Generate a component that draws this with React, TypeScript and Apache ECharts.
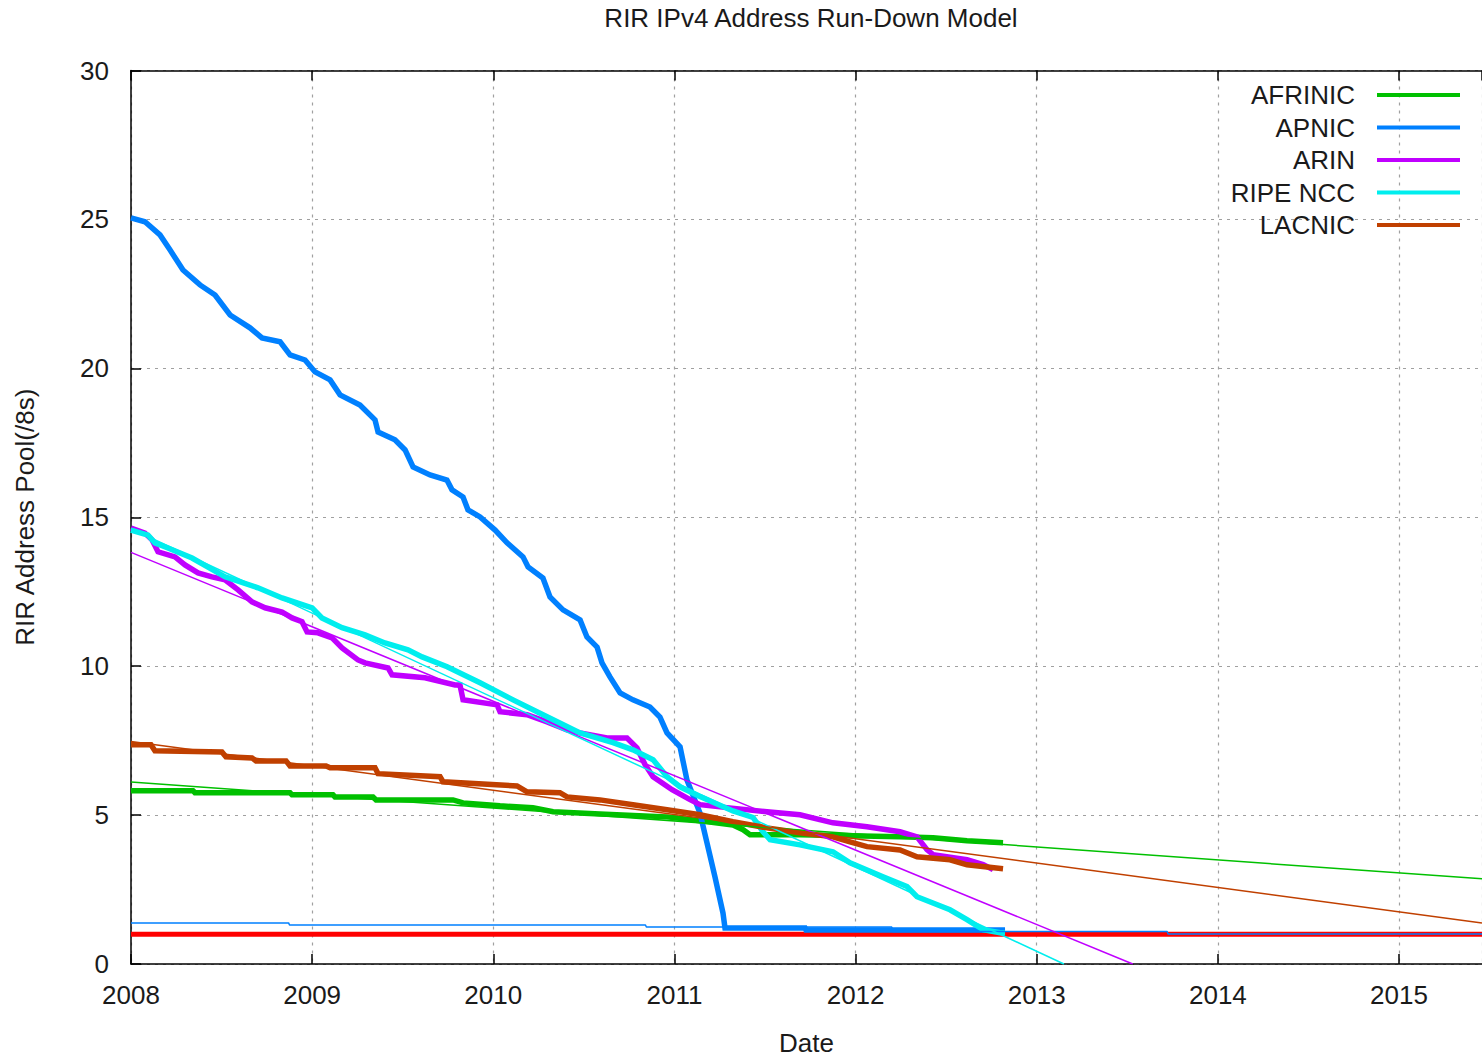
import React, { useEffect, useRef } from "react";
import * as echarts from "echarts";

const FONT = "Liberation Sans, Arial, sans-serif";
const FONT_SIZE = 26;
const X_MIN = 2008;
const X_MAX = 2015.458;
const Y_MIN = 0;
const Y_MAX = 30;

const TITLE = "RIR IPv4 Address Run-Down Model";
const X_NAME = "Date";
const Y_NAME = "RIR Address Pool(/8s)";
const LEGEND_NAMES = ["AFRINIC", "APNIC", "ARIN", "RIPE NCC", "LACNIC"];
const COLORS = ["#00c000", "#0080ff", "#c000ff", "#00eeee", "#c04000"];
const THRESHOLD_COLOR = "#ff0000";

// [year, /8s]
const AFRINIC: [number, number][] = [
  [2008.0, 5.82], [2008.342, 5.82], [2008.353, 5.75], [2008.878, 5.75], [2008.889, 5.68],
  [2009.115, 5.68], [2009.126, 5.61], [2009.336, 5.61], [2009.353, 5.51], [2009.778, 5.51],
  [2009.833, 5.41], [2010.037, 5.31], [2010.219, 5.25], [2010.33, 5.11], [2010.589, 5.04],
  [2010.959, 4.94], [2011.141, 4.81], [2011.323, 4.67], [2011.379, 4.51], [2011.417, 4.34],
  [2011.693, 4.34], [2012.245, 4.27], [2012.428, 4.24], [2012.615, 4.14], [2012.814, 4.07],
];

const APNIC: [number, number][] = [
  [2008.0, 25.05], [2008.077, 24.92], [2008.16, 24.48], [2008.215, 23.98], [2008.287, 23.3],
  [2008.381, 22.8], [2008.464, 22.46], [2008.547, 21.79], [2008.657, 21.36], [2008.723, 21.02],
  [2008.823, 20.89], [2008.878, 20.45], [2008.961, 20.28], [2009.016, 19.88], [2009.099, 19.61],
  [2009.154, 19.11], [2009.264, 18.77], [2009.347, 18.27], [2009.364, 17.86], [2009.457, 17.6],
  [2009.513, 17.26], [2009.557, 16.69], [2009.651, 16.42], [2009.744, 16.25], [2009.772, 15.92],
  [2009.833, 15.68], [2009.86, 15.25], [2009.927, 15.01], [2010.01, 14.57], [2010.076, 14.14],
  [2010.164, 13.67], [2010.192, 13.33], [2010.274, 12.96], [2010.313, 12.32], [2010.385, 11.89],
  [2010.479, 11.55], [2010.517, 10.98], [2010.573, 10.64], [2010.6, 10.11], [2010.644, 9.64],
  [2010.7, 9.1], [2010.771, 8.87], [2010.865, 8.63], [2010.92, 8.29], [2010.959, 7.76],
  [2011.031, 7.29], [2011.069, 6.18], [2011.141, 5.07], [2011.18, 4.06], [2011.224, 2.92],
  [2011.268, 1.71], [2011.279, 1.21], [2011.721, 1.21], [2011.726, 1.14], [2012.825, 1.14],
];

const ARIN: [number, number][] = [
  [2008.0, 14.64], [2008.077, 14.47], [2008.116, 14.24], [2008.149, 13.84], [2008.243, 13.67],
  [2008.298, 13.4], [2008.37, 13.13], [2008.447, 13.0], [2008.519, 12.9], [2008.591, 12.56],
  [2008.668, 12.16], [2008.74, 11.96], [2008.834, 11.82], [2008.889, 11.62], [2008.944, 11.49],
  [2008.972, 11.15], [2009.032, 11.12], [2009.11, 10.95], [2009.165, 10.61], [2009.253, 10.21],
  [2009.292, 10.11], [2009.419, 9.94], [2009.441, 9.71], [2009.623, 9.61], [2009.789, 9.37],
  [2009.816, 9.37], [2009.833, 8.87], [2010.021, 8.7], [2010.037, 8.47], [2010.186, 8.37],
  [2010.297, 8.13], [2010.407, 7.86], [2010.479, 7.76], [2010.628, 7.59], [2010.738, 7.59],
  [2010.793, 7.26], [2010.838, 6.69], [2010.882, 6.29], [2010.987, 5.85], [2011.086, 5.52],
  [2011.141, 5.35], [2011.29, 5.25], [2011.511, 5.11], [2011.693, 5.01], [2011.875, 4.74],
  [2012.063, 4.61], [2012.245, 4.44], [2012.339, 4.27], [2012.394, 3.84], [2012.428, 3.67],
  [2012.615, 3.5], [2012.704, 3.34], [2012.759, 3.17],
];

const RIPE_NCC: [number, number][] = [
  [2008.0, 14.57], [2008.094, 14.4], [2008.132, 14.14], [2008.204, 13.97], [2008.337, 13.63],
  [2008.519, 13.0], [2008.701, 12.63], [2008.834, 12.29], [2009.0, 11.96], [2009.054, 11.62],
  [2009.165, 11.29], [2009.292, 11.05], [2009.402, 10.78], [2009.529, 10.55], [2009.607, 10.31],
  [2009.745, 9.98], [2009.927, 9.44], [2010.109, 8.87], [2010.297, 8.3], [2010.479, 7.76],
  [2010.661, 7.43], [2010.771, 7.19], [2010.882, 6.86], [2010.959, 6.29], [2011.031, 5.95],
  [2011.141, 5.62], [2011.323, 5.14], [2011.434, 4.92], [2011.489, 4.44], [2011.528, 4.17],
  [2011.693, 4.0], [2011.875, 3.77], [2011.969, 3.4], [2012.151, 2.93], [2012.284, 2.6],
  [2012.339, 2.26], [2012.521, 1.82], [2012.615, 1.49], [2012.704, 1.15], [2012.797, 1.05],
  [2012.825, 1.05],
];

const LACNIC: [number, number][] = [
  [2008.0, 7.36], [2008.11, 7.36], [2008.132, 7.16], [2008.502, 7.12], [2008.524, 6.96],
  [2008.668, 6.92], [2008.69, 6.82], [2008.856, 6.82], [2008.878, 6.65], [2009.077, 6.65],
  [2009.099, 6.59], [2009.347, 6.59], [2009.364, 6.39], [2009.706, 6.29], [2009.722, 6.12],
  [2010.131, 5.98], [2010.186, 5.78], [2010.368, 5.75], [2010.407, 5.61], [2010.589, 5.51],
  [2010.771, 5.35], [2010.959, 5.18], [2011.141, 5.01], [2011.323, 4.78], [2011.511, 4.57],
  [2011.693, 4.41], [2011.875, 4.27], [2011.969, 4.1], [2012.063, 3.94], [2012.245, 3.83],
  [2012.339, 3.6], [2012.521, 3.5], [2012.615, 3.33], [2012.814, 3.2],
];

// thin model (projection) lines
const AFRINIC_MODEL: [number, number][] = [[2008.0, 6.11], [2015.458, 2.86]];
const APNIC_MODEL: [number, number][] = [
  [2008.0, 1.38], [2008.87, 1.38], [2008.875, 1.31], [2010.84, 1.31], [2010.845, 1.24],
  [2012.2, 1.24], [2012.205, 1.09], [2013.72, 1.09], [2013.725, 1.01], [2015.458, 1.01],
];
const ARIN_MODEL: [number, number][] = [[2008.0, 13.82], [2013.53, 0.0]];
const RIPE_NCC_MODEL: [number, number][] = [[2008.0, 14.62], [2013.15, 0.0]];
const LACNIC_MODEL: [number, number][] = [[2008.0, 7.47], [2015.458, 1.38]];
const THRESHOLD: [number, number][] = [[2008.0, 1.0], [2015.458, 1.0]];

const THICK = [AFRINIC, APNIC, ARIN, RIPE_NCC, LACNIC];
const MODELS = [AFRINIC_MODEL, APNIC_MODEL, ARIN_MODEL, RIPE_NCC_MODEL, LACNIC_MODEL];

export default function App() {
  const ref = useRef<HTMLDivElement>(null);
  useEffect(() => {
    if (!ref.current) return;
    const chart = echarts.init(ref.current, null, { renderer: "svg" });
    const textColor = "#1a1a1a";
    const series: any[] = [
      {
        name: "threshold",
        type: "line",
        data: THRESHOLD,
        showSymbol: false,
        symbol: "none",
        lineStyle: { color: THRESHOLD_COLOR, width: 5 },
        itemStyle: { color: THRESHOLD_COLOR },
        z: 2,
      },
    ];
    THICK.forEach((d, i) => {
      series.push({
        name: LEGEND_NAMES[i],
        type: "line",
        data: d,
        showSymbol: false,
        symbol: "none",
        lineStyle: { color: COLORS[i], width: 5.5, join: "miter" },
        itemStyle: { color: COLORS[i] },
        z: 3,
      });
    });
    MODELS.forEach((d, i) => {
      series.push({
        name: LEGEND_NAMES[i] + " model",
        type: "line",
        data: d,
        showSymbol: false,
        symbol: "none",
        lineStyle: { color: COLORS[i], width: 1.5 },
        itemStyle: { color: COLORS[i] },
        z: 4,
      });
    });

    const dotted = { color: "#a0a0a0", width: 1.2, type: [3, 5] as any };
    chart.setOption({
      animation: false,
      backgroundColor: "#ffffff",
      title: {
        text: TITLE,
        left: 806,
        top: 0,
        textAlign: "center",
        textStyle: { fontFamily: FONT, fontSize: FONT_SIZE, fontWeight: "normal", color: textColor },
      },
      legend: {
        data: LEGEND_NAMES,
        orient: "vertical",
        right: 17,
        top: 77,
        align: "right",
        icon: "rect",
        itemWidth: 83,
        itemHeight: 4,
        itemGap: 6.5,
        textStyle: {
          fontFamily: FONT,
          fontSize: FONT_SIZE,
          lineHeight: 26,
          color: textColor,
          padding: [0, 17, 0, 0],
        },
      },
      grid: {
        left: 131,
        right: 0,
        top: 70.5,
        bottom: 93,
        containLabel: false,
        outerBoundsMode: "none",
      },
      xAxis: [
        {
          type: "value",
          min: X_MIN,
          max: X_MAX,
          interval: 1,
          name: X_NAME,
          nameLocation: "middle",
          nameGap: 66,
          nameTextStyle: { fontFamily: FONT, fontSize: FONT_SIZE, color: textColor },
          axisLine: { show: true, onZero: false, lineStyle: { color: "#000", width: 1.5 } },
          axisTick: { show: true, inside: true, length: 10, lineStyle: { color: "#000", width: 1.5 } },
          axisLabel: {
            fontFamily: FONT,
            fontSize: FONT_SIZE,
            color: textColor,
            margin: 18,
            showMaxLabel: false,
            formatter: (v: number) => (Number.isInteger(v) ? String(v) : ""),
          },
          splitLine: { show: true, lineStyle: dotted },
        },
        {
          type: "value",
          position: "top",
          min: X_MIN,
          max: X_MAX,
          interval: 1,
          axisLine: { show: true, onZero: false, lineStyle: { color: "#000", width: 1.5 } },
          axisTick: { show: true, inside: true, length: 10, lineStyle: { color: "#000", width: 1.5 } },
          axisLabel: { show: false },
          splitLine: { show: false },
        },
      ],
      yAxis: {
        type: "value",
        min: Y_MIN,
        max: Y_MAX,
        interval: 5,
        name: Y_NAME,
        nameLocation: "middle",
        nameGap: 93,
        nameTextStyle: { fontFamily: FONT, fontSize: FONT_SIZE, color: textColor },
        axisLine: { show: true, onZero: false, lineStyle: { color: "#000", width: 1.5 } },
        axisTick: { show: true, inside: true, length: 10, lineStyle: { color: "#000", width: 1.5 } },
        axisLabel: { fontFamily: FONT, fontSize: FONT_SIZE, color: textColor, margin: 22 },
        splitLine: { show: true, lineStyle: dotted },
      },
      series,
    });
    return () => chart.dispose();
  }, []);
  return (
    <div
      ref={ref}
      style={{ position: "fixed", left: 0, top: 0, width: 1482, height: 1057, background: "#fff" }}
    />
  );
}
